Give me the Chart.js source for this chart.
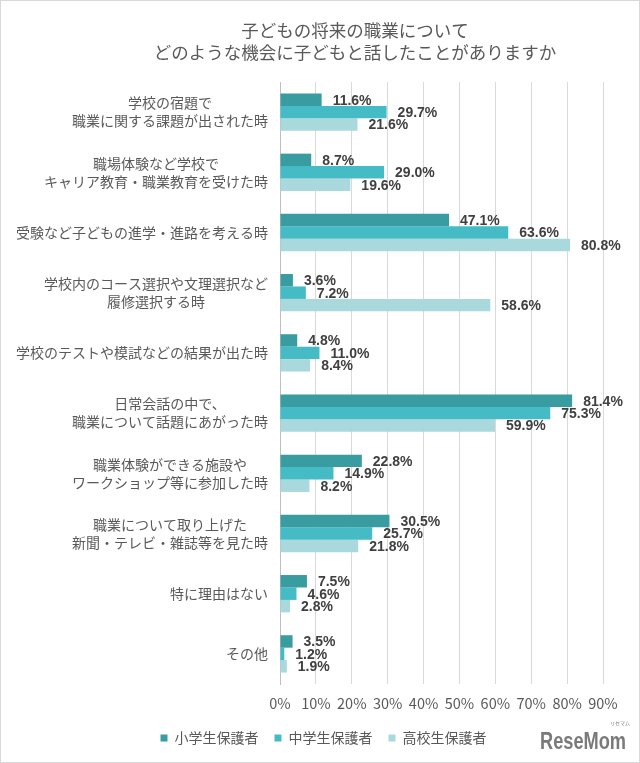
<!DOCTYPE html>
<html>
<head>
<meta charset="utf-8">
<script src="https://cdn.jsdelivr.net/npm/chart.js@4.4.0/dist/chart.umd.min.js"></script>
<style>
  html, body { margin: 0; padding: 0; background: #fff; }
  #wrap { width: 640px; height: 763px; }
</style>
</head>
<body>
<div id="wrap"><canvas id="chart" width="640" height="763"></canvas></div>
<script>
const titleLines = ['子どもの将来の職業について', 'どのような機会に子どもと話したことがありますか'];

const categories = [
    ['学校の宿題で', '職業に関する課題が出された時'],
    ['職場体験など学校で', 'キャリア教育・職業教育を受けた時'],
    ['受験など子どもの進学・進路を考える時'],
    ['学校内のコース選択や文理選択など', '履修選択する時'],
    ['学校のテストや模試などの結果が出た時'],
    ['日常会話の中で、', '職業について話題にあがった時'],
    ['職業体験ができる施設や', 'ワークショップ等に参加した時'],
    ['職業について取り上げた', '新聞・テレビ・雑誌等を見た時'],
    ['特に理由はない'],
    ['その他']
];

const seriesNames = ['小学生保護者', '中学生保護者', '高校生保護者'];
const elementary = [11.6, 8.7, 47.1, 3.6, 4.8, 81.4, 22.8, 30.5, 7.5, 3.5];
const juniorHigh = [29.7, 29.0, 63.6, 7.2, 11.0, 75.3, 14.9, 25.7, 4.6, 1.2];
const highSchool = [21.6, 19.6, 80.8, 58.6, 8.4, 59.9, 8.2, 21.8, 2.8, 1.9];
const xTicks = [0, 10, 20, 30, 40, 50, 60, 70, 80, 90];

const colors = ['#389ca0', '#45bcc5', '#a9d9dd'];
const textGrey = '#595959';
const jpFont = "'Noto Sans CJK JP', 'Noto Sans', sans-serif";

const extras = {
    id: 'extras',
    afterDatasetsDraw(chart) {
        const ctx = chart.ctx;
        ctx.save();
        ctx.font = "bold 14px 'Liberation Sans', Arial, sans-serif";
        ctx.fillStyle = '#404040';
        ctx.textAlign = 'left';
        ctx.textBaseline = 'middle';
        chart.data.datasets.forEach((ds, di) => {
            chart.getDatasetMeta(di).data.forEach((bar, i) => {
                ctx.fillText(ds.data[i].toFixed(1) + '%', bar.x + 11, bar.y + 1);
            });
        });
        ctx.restore();
    },
    afterDraw(chart) {
        const ctx = chart.ctx;
        const yScale = chart.scales.y;
        ctx.save();
        // category labels: lines centred on each other, block right-aligned
        ctx.font = '14px ' + jpFont;
        ctx.fillStyle = textGrey;
        ctx.textAlign = 'center';
        ctx.textBaseline = 'middle';
        categories.forEach((lines, i) => {
            const y = yScale.getPixelForValue(i);
            const w = Math.max(...lines.map(l => ctx.measureText(l).width));
            const cx = 268 - w / 2;
            lines.forEach((l, j) => {
                ctx.fillText(l, cx, y + (j - (lines.length - 1) / 2) * 18);
            });
        });
        // title
        ctx.font = '17.5px ' + jpFont;
        ctx.fillText(titleLines[0], 355, 30);
        ctx.fillText(titleLines[1], 355, 52);
        // logo, squeezed to the reference width
        ctx.fillStyle = '#7a7a7a';
        ctx.textAlign = 'left';
        ctx.font = "bold 24px 'Liberation Sans', sans-serif";
        const lw = ctx.measureText('ReseMom').width;
        ctx.save();
        ctx.translate(540, 742);
        ctx.scale(86 / lw, 1);
        ctx.fillText('ReseMom', 0, 0);
        ctx.restore();
        ctx.font = '5px ' + jpFont;
        ctx.fillText('リセマム', 610, 723);
        // outer frame
        ctx.strokeStyle = '#d9d9d9';
        ctx.lineWidth = 1;
        ctx.strokeRect(0.5, 0.5, 639, 762);
        ctx.restore();
    }
};

new Chart(document.getElementById('chart'), {
    type: 'bar',
    data: {
        labels: categories,
        datasets: [
            { label: seriesNames[0], data: elementary, backgroundColor: colors[0] },
            { label: seriesNames[1], data: juniorHigh, backgroundColor: colors[1] },
            { label: seriesNames[2], data: highSchool, backgroundColor: colors[2] }
        ]
    },
    options: {
        indexAxis: 'y',
        responsive: false,
        animation: false,
        devicePixelRatio: 1,
        categoryPercentage: 0.62,
        barPercentage: 1.0,
        layout: { padding: { top: 82, right: 37, bottom: 8, left: 44 } },
        scales: {
            x: {
                min: 0,
                max: 90,
                afterBuildTicks: s => { s.ticks = xTicks.map(v => ({ value: v })); },
                afterFit: s => { s.height = 31; },
                ticks: {
                    callback: v => v + '%',
                    color: textGrey,
                    font: { family: jpFont, size: 14.5 },
                    padding: 11
                },
                grid: { color: '#d9d9d9', drawTicks: false },
                border: { display: false }
            },
            y: {
                afterFit: s => { s.width = 236; },
                ticks: { display: false },
                grid: { display: false },
                border: { color: '#bfbfbf' }
            }
        },
        plugins: {
            title: { display: false },
            tooltip: { enabled: false },
            legend: {
                position: 'bottom',
                labels: {
                    boxWidth: 7,
                    boxHeight: 7,
                    padding: 16,
                    color: textGrey,
                    font: { family: jpFont, size: 14 }
                }
            }
        }
    },
    plugins: [extras]
});
</script>
</body>
</html>
